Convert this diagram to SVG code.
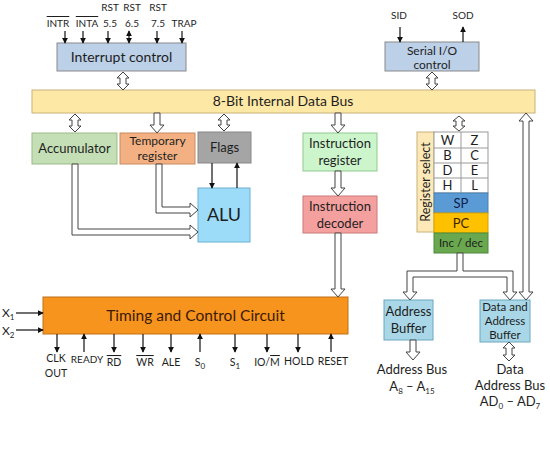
<svg xmlns="http://www.w3.org/2000/svg" width="550" height="458" viewBox="0 0 550 458">
<style>
text{font-family:Lato,"Open Sans","Liberation Sans",sans-serif;fill:#1e1e1e}
.t14{font-size:14px;text-anchor:middle}
.t13{font-size:13px;text-anchor:middle}
.t12{font-size:12px;text-anchor:middle}
.pin{font-size:10.5px;text-anchor:middle}
.top{font-size:10px;text-anchor:middle}
.sig{stroke:#111;stroke-width:1.2;fill:none}
.hol{fill:#fff;stroke:#444;stroke-width:1}
.ov{text-decoration:overline}
</style>
<defs>
<marker id="ah" viewBox="0 0 8 8" refX="7" refY="4" markerWidth="6" markerHeight="6" orient="auto-start-reverse" markerUnits="userSpaceOnUse">
<path d="M0,0 L8,4 L0,8 Z" fill="#111"/>
</marker>
</defs>
<rect width="550" height="458" fill="#fff"/>

<g id="interrupt">
<rect x="57" y="43" width="129" height="28" fill="#bcd0e8" stroke="#8a8a8a"/>
<text x="121.5" y="62" class="t14">Interrupt control</text>
</g>
<g id="serial">
<rect x="385" y="42" width="94" height="29" fill="#bcd0e8" stroke="#8a8a8a"/>
<text x="432" y="54.5" class="t12">Serial I/O</text>
<text x="432" y="69" class="t12">control</text>
</g>
<g id="bus">
<rect x="32" y="90" width="503" height="23" fill="#fde8a6" stroke="#c9b27a"/>
<text x="283" y="106" class="t14">8-Bit Internal Data Bus</text>
</g>
<g id="accumulator">
<rect x="32" y="133" width="85" height="31" fill="#c4dfb6" stroke="#9bbb8a"/>
<text x="74.5" y="153" class="t13">Accumulator</text>
</g>
<g id="temp">
<rect x="120" y="133" width="75" height="31" fill="#f3b183" stroke="#c98a5f"/>
<text x="157.5" y="145" class="t12">Temporary</text>
<text x="157.5" y="160" class="t12">register</text>
</g>
<g id="flags">
<rect x="198" y="132" width="53" height="31" fill="#a5a5a5" stroke="#888"/>
<text x="224.5" y="152" class="t13">Flags</text>
</g>
<g id="alu">
<rect x="198" y="188" width="52" height="54" fill="#9cdcf9" stroke="#6db0d0"/>
<text x="224" y="221" style="font-size:18px;text-anchor:middle">ALU</text>
</g>
<g id="ir">
<rect x="303" y="133" width="74" height="38" fill="#ccf5cc" stroke="#8fc98f"/>
<text x="340" y="148" class="t13">Instruction</text>
<text x="340" y="165" class="t13">register</text>
</g>
<g id="id">
<rect x="303" y="196" width="74" height="37" fill="#f4a09e" stroke="#cc7a7a"/>
<text x="340" y="211" class="t13">Instruction</text>
<text x="340" y="228" class="t13">decoder</text>
</g>
<g id="regselect">
<rect x="417" y="132" width="17" height="100" fill="#fde9b8" stroke="#c9b27a"/>
<text transform="translate(430,182) rotate(-90)" x="0" y="0" style="font-size:12.5px;text-anchor:middle">Register select</text>
</g>
<g id="registers">
<rect x="434" y="132" width="54" height="61" fill="#fff" stroke="#999"/>
<line x1="434" y1="148" x2="488" y2="148" stroke="#999"/>
<line x1="434" y1="163" x2="488" y2="163" stroke="#999"/>
<line x1="434" y1="178" x2="488" y2="178" stroke="#999"/>
<line x1="461" y1="132" x2="461" y2="193" stroke="#999"/>
<text x="447.5" y="145" class="t13">W</text><text x="474.5" y="145" class="t13">Z</text>
<text x="447.5" y="160" class="t13">B</text><text x="474.5" y="160" class="t13">C</text>
<text x="447.5" y="175" class="t13">D</text><text x="474.5" y="175" class="t13">E</text>
<text x="447.5" y="190" class="t13">H</text><text x="474.5" y="190" class="t13">L</text>
</g>
<g id="sp">
<rect x="434" y="193" width="54" height="20" fill="#5b9bd5" stroke="#4a80b0"/>
<text x="461" y="208" class="t13" style="fill:#10204a">SP</text>
</g>
<g id="pc">
<rect x="434" y="213" width="54" height="20" fill="#ffc000" stroke="#d9a300"/>
<text x="461" y="228" class="t13" style="fill:#3a2000">PC</text>
</g>
<g id="incdec">
<rect x="434" y="233" width="54" height="20" fill="#6aa84f" stroke="#4f8a3a"/>
<text x="461" y="247" style="font-size:11.5px;text-anchor:middle">Inc / dec</text>
</g>
<g id="addrbuf">
<rect x="384" y="300" width="49" height="40" fill="#a9d7e7" stroke="#6aa7c0"/>
<text x="408.5" y="316" class="t13">Address</text>
<text x="408.5" y="333" class="t13">Buffer</text>
</g>
<g id="databuf">
<rect x="480" y="300" width="50" height="42" fill="#a9d7e7" stroke="#6aa7c0"/>
<text x="505" y="311" style="font-size:11.5px;text-anchor:middle">Data and</text>
<text x="505" y="325" style="font-size:11.5px;text-anchor:middle">Address</text>
<text x="505" y="339" style="font-size:11.5px;text-anchor:middle">Buffer</text>
</g>
<g id="timing">
<rect x="43" y="297" width="305" height="37" fill="#f7941d" stroke="#c0701a"/>
<text x="195.5" y="321" style="font-size:15.5px;text-anchor:middle;fill:#3c1a0a">Timing and Control Circuit</text>
</g>

<g id="labels">
<text x="58" y="27" class="top ov">INTR</text>
<text x="87" y="27" class="top ov">INTA</text>
<text x="110" y="11" class="top">RST</text><text x="110" y="27" class="top">5.5</text>
<text x="132" y="11" class="top">RST</text><text x="132" y="27" class="top">6.5</text>
<text x="158" y="11" class="top">RST</text><text x="158" y="27" class="top">7.5</text>
<text x="184" y="27" class="top">TRAP</text>
<text x="399" y="19" class="top">SID</text>
<text x="463" y="19" class="top">SOD</text>
<text x="2" y="317" style="font-size:12px">X<tspan dy="3" style="font-size:8px">1</tspan></text>
<text x="2" y="335" style="font-size:12px">X<tspan dy="3" style="font-size:8px">2</tspan></text>
<text x="56" y="362" class="pin">CLK</text><text x="56" y="377" class="pin">OUT</text>
<text x="87" y="363" class="pin" style="font-size:10px">READY</text>
<text x="114" y="366" class="pin ov">RD</text>
<text x="145" y="366" class="pin ov">WR</text>
<text x="171" y="366" class="pin">ALE</text>
<text x="200" y="366" class="pin">S<tspan dy="3" style="font-size:8px">0</tspan></text>
<text x="235" y="366" class="pin">S<tspan dy="3" style="font-size:8px">1</tspan></text>
<text x="267" y="366" class="pin">IO/<tspan class="ov">M</tspan></text>
<text x="299" y="365" class="pin">HOLD</text>
<text x="333" y="365" class="pin">RESET</text>
<text x="412" y="374" class="t13">Address Bus</text>
<text x="412" y="391" class="t13">A<tspan dy="3" style="font-size:8px">8</tspan><tspan dy="-3"> – A</tspan><tspan dy="3" style="font-size:8px">15</tspan></text>
<text x="510" y="374" class="t13">Data</text>
<text x="510" y="390" class="t13">Address Bus</text>
<text x="510" y="406" class="t13">AD<tspan dy="3" style="font-size:8px">0</tspan><tspan dy="-3"> – AD</tspan><tspan dy="3" style="font-size:8px">7</tspan></text>
</g>

<g id="connectors">
<line class="sig" x1="65" y1="31" x2="65" y2="43" marker-end="url(#ah)"/>
<line class="sig" x1="83" y1="31" x2="83" y2="43" marker-end="url(#ah)"/>
<line class="sig" x1="108" y1="31" x2="108" y2="43" marker-end="url(#ah)"/>
<line class="sig" x1="129" y1="31" x2="129" y2="43" marker-start="url(#ah)" marker-end="url(#ah)"/>
<line class="sig" x1="157" y1="31" x2="157" y2="43" marker-end="url(#ah)"/>
<line class="sig" x1="182" y1="31" x2="182" y2="43" marker-end="url(#ah)"/>
<line class="sig" x1="400" y1="27" x2="400" y2="42" marker-end="url(#ah)"/>
<line class="sig" x1="463" y1="42" x2="463" y2="27" marker-end="url(#ah)"/>
<line class="sig" x1="212" y1="163" x2="212" y2="188" marker-end="url(#ah)"/>
<line class="sig" x1="237" y1="188" x2="237" y2="163" marker-end="url(#ah)"/>
<line class="sig" x1="16" y1="313" x2="43" y2="313" marker-end="url(#ah)"/>
<line class="sig" x1="16" y1="330" x2="43" y2="330" marker-end="url(#ah)"/>
<line class="sig" x1="57" y1="334" x2="57" y2="352" marker-end="url(#ah)"/>
<line class="sig" x1="84" y1="352" x2="84" y2="334" marker-end="url(#ah)"/>
<line class="sig" x1="114" y1="334" x2="114" y2="352" marker-end="url(#ah)"/>
<line class="sig" x1="143" y1="334" x2="143" y2="352" marker-end="url(#ah)"/>
<line class="sig" x1="171" y1="334" x2="171" y2="352" marker-end="url(#ah)"/>
<line class="sig" x1="200" y1="352" x2="200" y2="334" marker-end="url(#ah)"/>
<line class="sig" x1="235" y1="334" x2="235" y2="352" marker-end="url(#ah)"/>
<line class="sig" x1="267" y1="334" x2="267" y2="352" marker-end="url(#ah)"/>
<line class="sig" x1="298" y1="334" x2="298" y2="352" marker-end="url(#ah)"/>
<line class="sig" x1="331" y1="352" x2="331" y2="334" marker-end="url(#ah)"/>

<path class="hol" d="M123,72 L129,78 L126,78 L126,84 L129,84 L123,90 L117,84 L120,84 L120,78 L117,78 Z"/>
<path class="hol" d="M432,72 L438,78 L435,78 L435,84 L438,84 L432,90 L426,84 L429,84 L429,78 L426,78 Z"/>
<path class="hol" d="M75,114 L81,120 L78,120 L78,126 L81,126 L75,132 L69,126 L72,126 L72,120 L69,120 Z"/>
<path class="hol" d="M224,114 L230,120 L227,120 L227,125 L230,125 L224,131 L218,125 L221,125 L221,120 L218,120 Z"/>
<path class="hol" d="M459,116 L465,121 L462,121 L462,126 L465,126 L459,131 L453,126 L456,126 L456,121 L453,121 Z"/>
<path class="hol" d="M154,113 L154,125 L150,125 L157,133 L164,125 L160,125 L160,113 Z"/>
<path class="hol" d="M335,113 L335,125 L331,125 L338,133 L345,125 L341,125 L341,113 Z"/>
<path class="hol" d="M335,171 L335,188 L331,188 L338,196 L345,188 L341,188 L341,171 Z"/>
<path class="hol" d="M335,233 L335,289 L331,289 L338,297 L345,289 L341,289 L341,233 Z"/>
<path class="hol" d="M156,164 L156,213 L190,213 L190,217 L198,210 L190,203 L190,207 L162,207 L162,164 Z"/>
<path class="hol" d="M72,164 L72,235 L190,235 L190,239 L198,232 L190,225 L190,229 L78,229 L78,164 Z"/>
<path class="hol" d="M457,253 L457,271 L407,271 L407,292 L403,292 L410,300 L417,292 L413,292 L413,277 L507,277 L507,292 L503,292 L510,300 L517,292 L513,292 L513,271 L463,271 L463,253 Z"/>
<path class="hol" d="M526,113 L533,121 L529,121 L529,292 L533,292 L526,300 L519,292 L523,292 L523,121 L519,121 Z"/>
<path class="hol" d="M410,340 L410,352 L406,352 L413,360 L420,352 L416,352 L416,340 Z"/>
<path class="hol" d="M509,342 L515,348 L512,348 L512,355 L515,355 L509,361 L503,355 L506,355 L506,348 L503,348 Z"/>
</g>
</svg>
